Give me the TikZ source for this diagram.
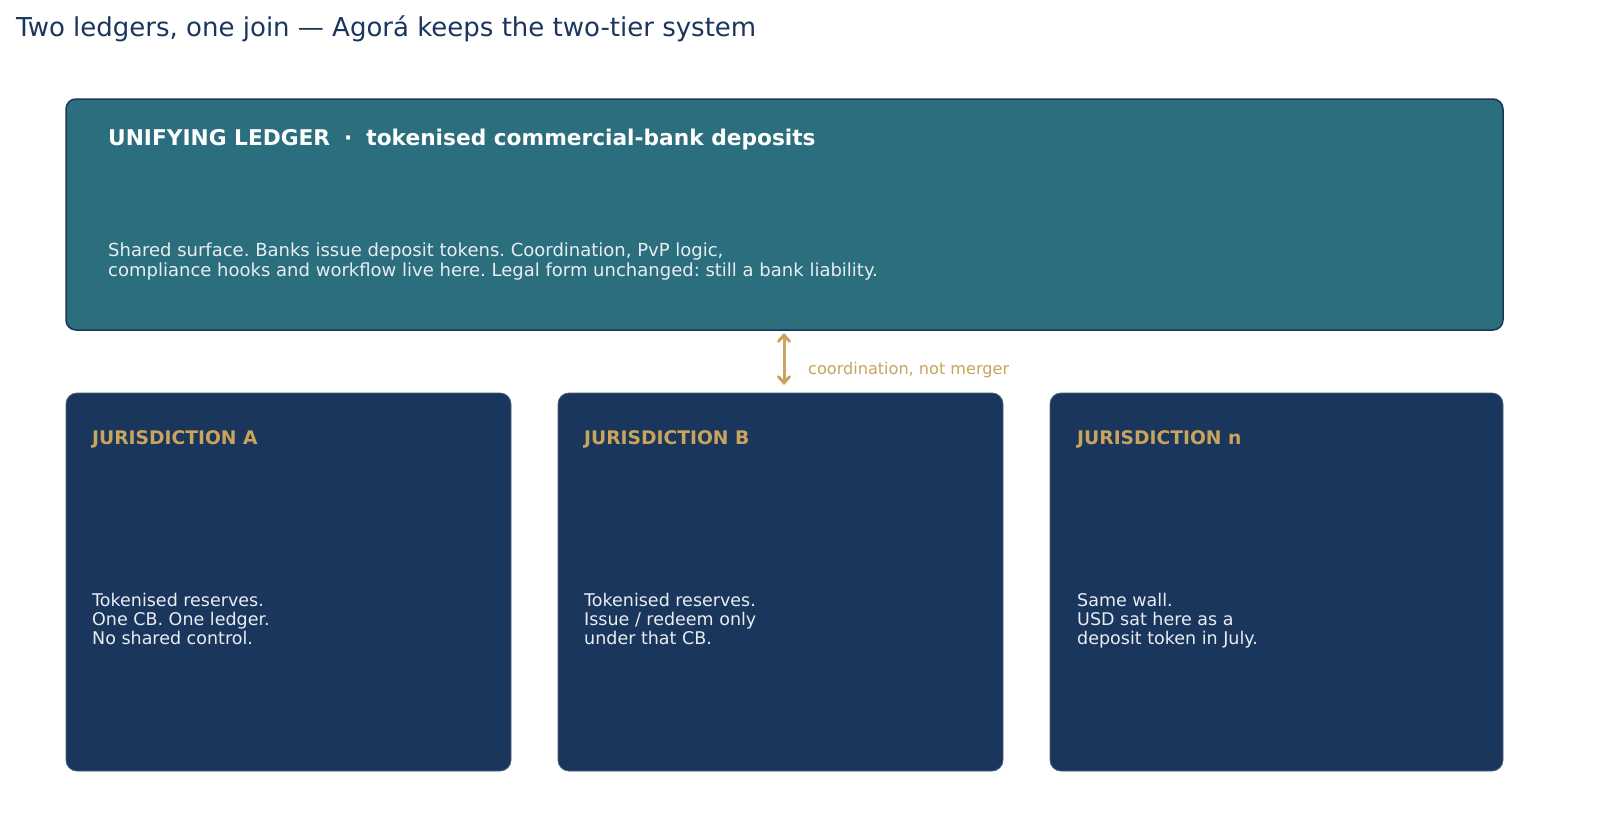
\documentclass[tikz,border=0pt]{standalone}
\usepackage{fontspec}
\setmainfont{DejaVu Sans}
\usetikzlibrary{arrows.meta}
\frenchspacing
\definecolor{navy}{HTML}{1B365D}
\definecolor{teal}{HTML}{2B6E7E}
\definecolor{gold}{HTML}{C9A45C}
\definecolor{soft}{HTML}{E8EDF2}
\definecolor{titlec}{HTML}{1B365D}
\tikzset{
  x=1pt,y=-1pt,
  topbox/.style={draw=navy,line width=1.5pt,fill=teal,rounded corners=10pt},
  jbox/.style={draw=navy!80!white,line width=0.8pt,fill=navy,rounded corners=11pt},
  jtitle/.style={anchor=base west,inner sep=0pt,text=gold,font=\fontsize{18.7}{20}\selectfont\bfseries},
  jbody/.style={anchor=base west,inner sep=0pt,text=soft,align=left,font=\fontsize{17.5}{19}\selectfont},
  link/.style={draw=gold,line width=3pt,{Straight Barb[length=6pt,width=11pt,line cap=round]}-{Straight Barb[length=6pt,width=11pt,line cap=round]}},
}
\begin{document}
\begin{tikzpicture}
\useasboundingbox[fill=white] (0,0) rectangle (1600,838);
\node[anchor=base west,inner sep=0pt,text=titlec,font=\fontsize{26}{30}\selectfont] (title) at (16,36) {Two ledgers, one join — Agorá keeps the two-tier system};

\path[topbox] (66,99) rectangle (1503,330);
\coordinate (topbot) at (784,333);
\node[anchor=base west,inner sep=0pt,text=white,font=\fontsize{21.7}{24}\selectfont\bfseries] (uhead) at (108,145) {UNIFYING LEDGER\hspace{14pt}·\hspace{14pt}tokenised commercial-bank deposits};
\node[anchor=base west,inner sep=0pt,text=soft,align=left,font=\fontsize{18}{20}\selectfont] (ubody) at (108,276) {Shared surface. Banks issue deposit tokens. Coordination, PvP logic,\\compliance hooks and workflow live here. Legal form unchanged: still a bank liability.};

\path[jbox] (66,393) rectangle (511,771);
\path[jbox] (558,393) rectangle (1003,771);
\path[jbox] (1050,393) rectangle (1503,771);
\coordinate (btop) at (784,385);

\node[jtitle] (ja) at (92,444) {JURISDICTION A};
\node[jbody] (jab) at (92,644) {Tokenised reserves.\\One CB. One ledger.\\No shared control.};
\node[jtitle] (jb) at (584,444) {JURISDICTION B};
\node[jbody] (jbb) at (584,644) {Tokenised reserves.\\Issue / redeem only\\under that CB.};
\node[jtitle] (jn) at (1077,444) {JURISDICTION n};
\node[jbody] (jnb) at (1077,644) {Same wall.\\USD sat here as a\\deposit token in July.};

\draw[link] (topbot) -- (btop);
\node[anchor=base west,inner sep=0pt,text=gold,font=\fontsize{16.1}{18}\selectfont] (lbl) at (808,374) {coordination, not merger};
\end{tikzpicture}
\end{document}
